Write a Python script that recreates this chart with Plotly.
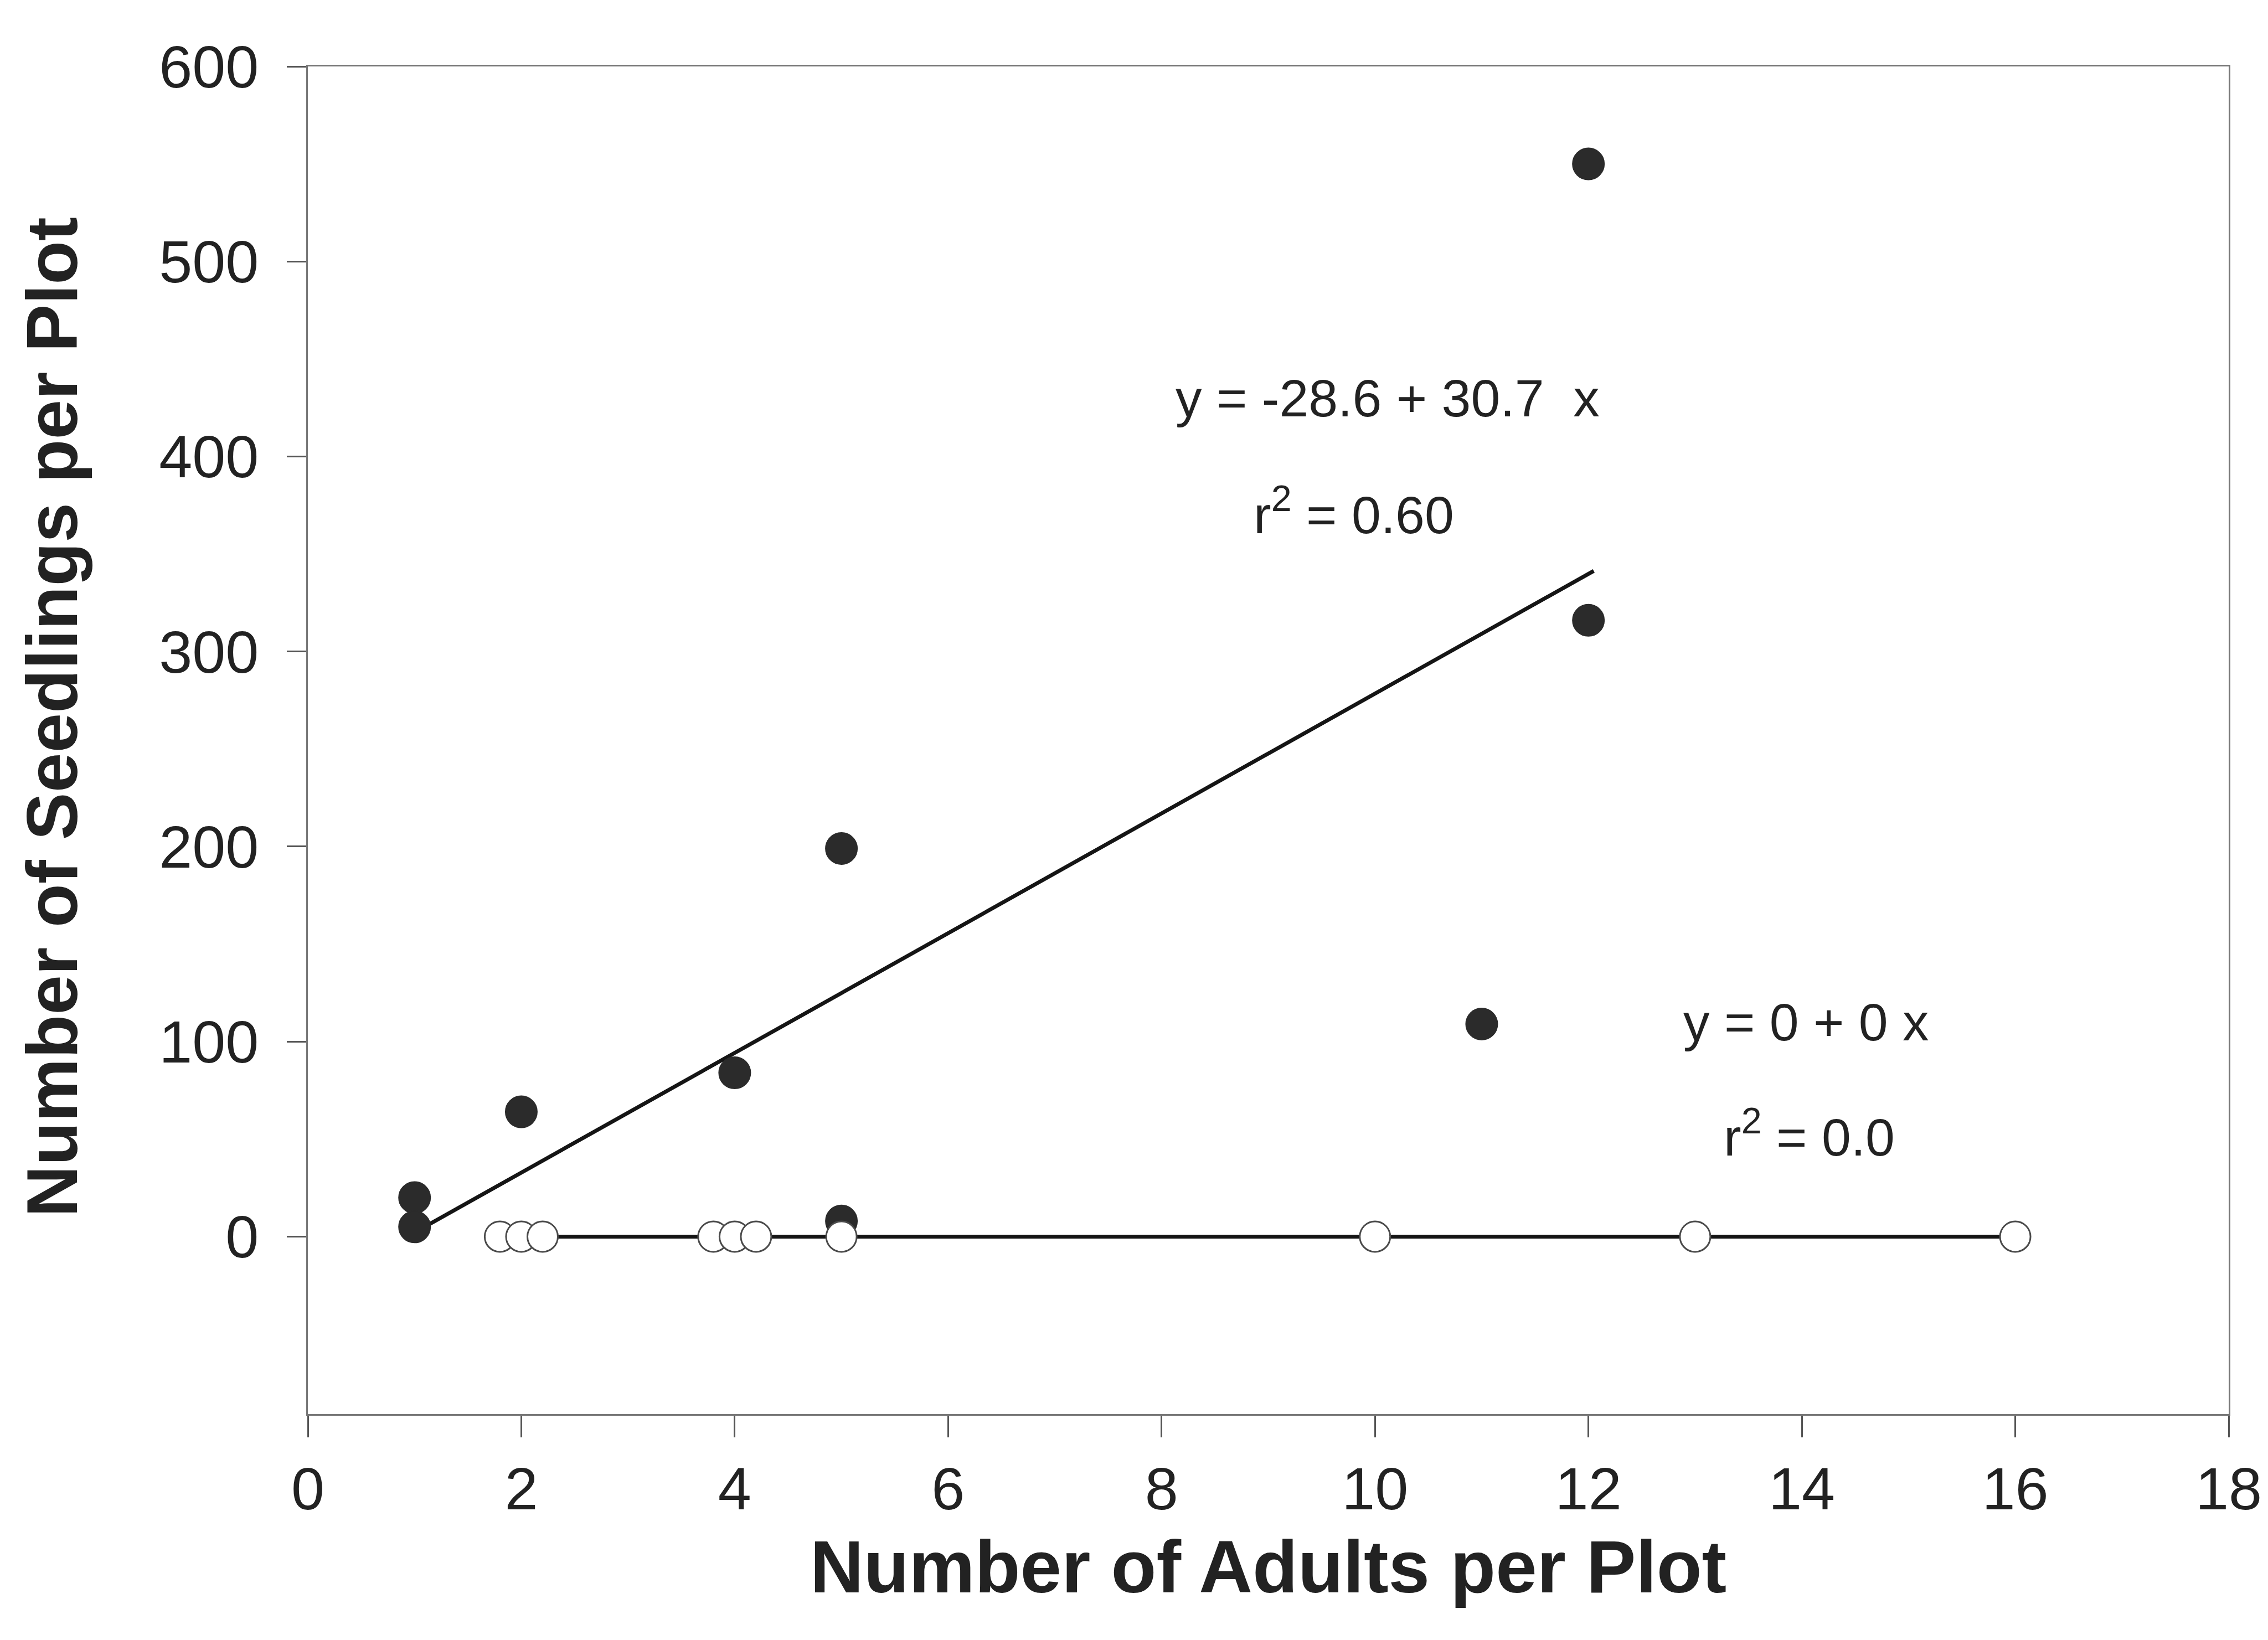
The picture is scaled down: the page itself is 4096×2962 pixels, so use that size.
import plotly.graph_objects as go

# ---- data ----
filled_x = [1, 1, 2, 4, 5, 5, 11, 12, 12]
filled_y = [20, 5, 64, 84, 199, 8, 109, 316, 550]

open_x = [1.8, 2.0, 2.2, 3.8, 4.0, 4.2, 5, 10, 13, 16]
open_y = [0, 0, 0, 0, 0, 0, 0, 0, 0, 0]

fit1_intercept, fit1_slope = -28.6, 30.7
fit1_xrange = [1, 12.05]
fit2_intercept, fit2_slope = 0.0, 0.0
fit2_xrange = [2.2, 16]

x_ticks = [0, 2, 4, 6, 8, 10, 12, 14, 16, 18]
y_ticks = [0, 100, 200, 300, 400, 500, 600]

fit1_y = [fit1_intercept + fit1_slope * v for v in fit1_xrange]
fit2_y = [fit2_intercept + fit2_slope * v for v in fit2_xrange]

W, H = 4096, 2962
L, R, T, B = 548, 79, 112, 416
TXT = "#222222"
FONT = "Liberation Sans, Arial, sans-serif"

fig = go.Figure()
fig.add_trace(go.Scatter(x=fit1_xrange, y=fit1_y, mode="lines",
                         line=dict(color="#151515", width=7), showlegend=False))
fig.add_trace(go.Scatter(x=filled_x, y=filled_y, mode="markers",
                         marker=dict(size=57, color="#2b2b2b",
                                     line=dict(color="#2b2b2b", width=2)),
                         showlegend=False))
fig.add_trace(go.Scatter(x=fit2_xrange, y=fit2_y, mode="lines",
                         line=dict(color="#151515", width=7), showlegend=False))
fig.add_trace(go.Scatter(x=open_x, y=open_y, mode="markers",
                         marker=dict(size=55, color="white",
                                     line=dict(color="#4a4a4a", width=3)),
                         showlegend=False))

axis_common = dict(showline=True, linecolor="#777777", linewidth=3, mirror=True,
                   ticks="outside", tickcolor="#555555", tickwidth=3,
                   showgrid=False, zeroline=False,
                   tickfont=dict(family=FONT, size=108, color=TXT))

fig.update_xaxes(range=[0, 18], tickvals=x_ticks, ticktext=[str(v) for v in x_ticks],
                 ticklen=39, ticklabelstandoff=0, **axis_common)
fig.update_yaxes(range=[-91, 600], tickvals=y_ticks, ticktext=[str(v) for v in y_ticks],
                 ticklen=35, ticklabelstandoff=29, **axis_common)

ann_font = dict(family=FONT, size=95, color=TXT)
annotations = [
    dict(x=10.12, y=430, xref="x", yref="y", text="y = -28.6 + 30.7  x",
         showarrow=False, font=ann_font),
    dict(x=9.8, y=372, xref="x", yref="y", text="r<sup>2</sup> = 0.60",
         showarrow=False, font=ann_font),
    dict(x=14.04, y=110, xref="x", yref="y", text="y = 0 + 0 x",
         showarrow=False, font=ann_font),
    dict(x=14.07, y=53, xref="x", yref="y", text="r<sup>2</sup> = 0.0",
         showarrow=False, font=ann_font),
    dict(x=0.5, y=-0.113, xref="paper", yref="paper", text="<b>Number of Adults per Plot</b>",
         showarrow=False, xanchor="center", yanchor="middle",
         font=dict(family=FONT, size=134, color=TXT)),
    dict(x=-0.133, y=0.517, xref="paper", yref="paper", text="<b>Number of Seedlings per Plot</b>",
         showarrow=False, xanchor="center", yanchor="middle", textangle=-90,
         font=dict(family=FONT, size=129, color=TXT)),
]

fig.update_layout(width=W, height=H, margin=dict(l=L, r=R, t=T, b=B, pad=0),
                  paper_bgcolor="white", plot_bgcolor="white",
                  annotations=annotations, showlegend=False)

fig.write_html("out.html")
